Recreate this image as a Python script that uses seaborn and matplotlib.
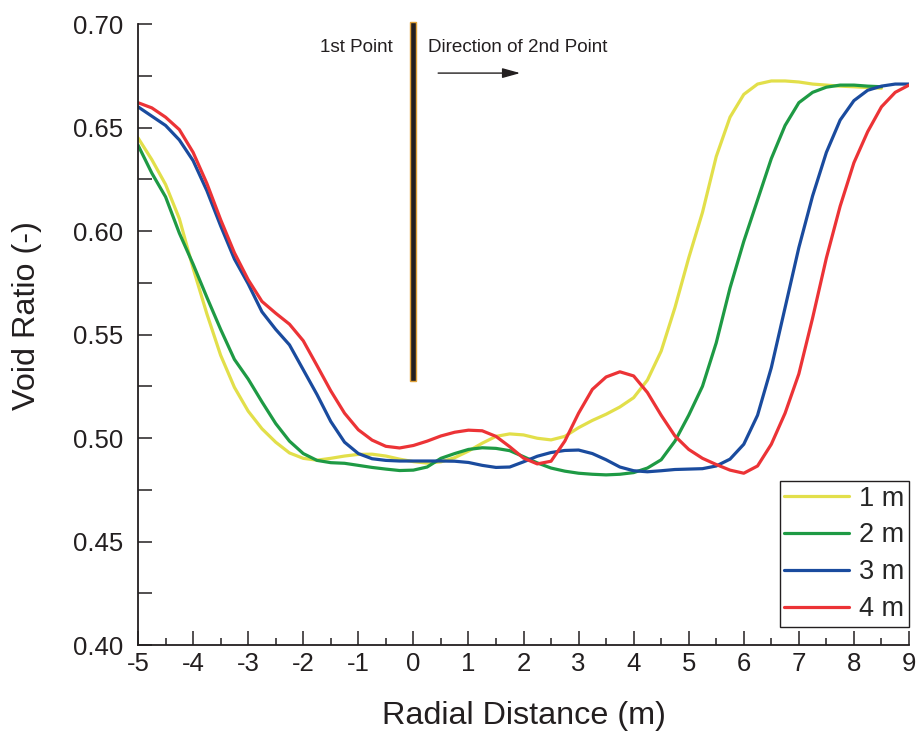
import numpy as np
import pandas as pd
import matplotlib
matplotlib.use("Agg")
import matplotlib.pyplot as plt
from matplotlib.patches import Rectangle
from matplotlib.ticker import MultipleLocator
import seaborn as sns

# Radial positions (m), shared sampling grid
radial = [-5.0, -4.75, -4.5, -4.25, -4.0, -3.75, -3.5, -3.25, -3.0, -2.75,
          -2.5, -2.25, -2.0, -1.75, -1.5, -1.25, -1.0, -0.75, -0.5, -0.25,
          0.0, 0.25, 0.5, 0.75, 1.0, 1.25, 1.5, 1.75, 2.0, 2.25,
          2.5, 2.75, 3.0, 3.25, 3.5, 3.75, 4.0, 4.25, 4.5, 4.75,
          5.0, 5.25, 5.5, 5.75, 6.0, 6.25, 6.5, 6.75, 7.0, 7.25,
          7.5, 7.75, 8.0, 8.25, 8.5, 8.75, 9.0]

# Void ratio profiles at each depth
void_1m = [0.645, 0.6345, 0.6225, 0.606, 0.582, 0.560, 0.540, 0.5245, 0.513, 0.5045,
           0.498, 0.4928, 0.4902, 0.4893, 0.4902, 0.4913, 0.4921, 0.4922, 0.4913, 0.4898,
           0.4886, 0.4879, 0.4885, 0.4905, 0.4937, 0.4975, 0.5008, 0.5020, 0.5015, 0.4999,
           0.4991, 0.5008, 0.5050, 0.5085, 0.5115, 0.5150, 0.5195, 0.528, 0.542, 0.563,
           0.587, 0.609, 0.636, 0.655, 0.666, 0.671, 0.6725, 0.6725, 0.672, 0.671,
           0.6705, 0.670, 0.6697, 0.6693, 0.669]
void_2m = [0.6415, 0.628, 0.6165, 0.599, 0.584, 0.568, 0.5525, 0.538, 0.5285, 0.5175,
           0.507, 0.4985, 0.4925, 0.4892, 0.4881, 0.4878, 0.4868, 0.4858, 0.4850, 0.4843,
           0.4845, 0.4860, 0.4902, 0.4925, 0.4945, 0.4953, 0.4950, 0.4939, 0.4910, 0.4880,
           0.4855, 0.4840, 0.4830, 0.4825, 0.4822, 0.4825, 0.4833, 0.4855, 0.4895, 0.4985,
           0.511, 0.525, 0.546, 0.5725, 0.595, 0.615, 0.635, 0.651, 0.662, 0.667,
           0.6695, 0.6705, 0.6705, 0.670, 0.6697]
void_3m = [0.660, 0.6555, 0.651, 0.644, 0.634, 0.6195, 0.6025, 0.5865, 0.5745, 0.561,
           0.5525, 0.545, 0.533, 0.521, 0.508, 0.498, 0.4925, 0.4900, 0.4892, 0.4889,
           0.4889, 0.4889, 0.4889, 0.4888, 0.4882, 0.4868, 0.4858, 0.4860, 0.4885, 0.4912,
           0.4930, 0.4940, 0.4942, 0.4925, 0.4895, 0.4860, 0.4842, 0.4837, 0.4842, 0.4848,
           0.4850, 0.4852, 0.4865, 0.4898, 0.497, 0.511, 0.534, 0.563, 0.592, 0.617,
           0.638, 0.6536, 0.663, 0.668, 0.670, 0.671, 0.671]
void_4m = [0.662, 0.6595, 0.655, 0.649, 0.638, 0.623, 0.6055, 0.5895, 0.5765, 0.566,
           0.5603, 0.555, 0.547, 0.535, 0.5228, 0.512, 0.504, 0.499, 0.4960, 0.4952,
           0.4964, 0.4985, 0.5010, 0.5028, 0.5038, 0.5035, 0.5008, 0.4958, 0.4903, 0.4875,
           0.4888, 0.4985, 0.512, 0.5235, 0.5295, 0.532, 0.530, 0.522, 0.511, 0.501,
           0.4945, 0.4902, 0.4872, 0.4845, 0.4830, 0.4865, 0.497, 0.512, 0.531, 0.558,
           0.587, 0.612, 0.633, 0.648, 0.660, 0.667, 0.6705]

depth_labels = ["1 m", "2 m", "3 m", "4 m"]
line_colors = ["#E2DF4A", "#1E9A44", "#1A4B9E", "#EC3336"]

x_ticks = [-5, -4, -3, -2, -1, 0, 1, 2, 3, 4, 5, 6, 7, 8, 9]
y_ticks = [0.40, 0.45, 0.50, 0.55, 0.60, 0.65, 0.70]

frames = []
for label, values in zip(depth_labels, [void_1m, void_2m, void_3m, void_4m]):
    frames.append(pd.DataFrame({"Radial Distance (m)": radial[:len(values)],
                                "Void Ratio (-)": values,
                                "Depth": label}))
data = pd.concat(frames, ignore_index=True)

sns.set_theme(style="ticks")
plt.rcParams["font.family"] = ["Liberation Sans", "DejaVu Sans"]

fig = plt.figure(figsize=(9.19, 7.35), dpi=100)
ax = fig.add_axes([0.1502, 0.1224, 0.8389, 0.8449])

sns.lineplot(data=data, x="Radial Distance (m)", y="Void Ratio (-)",
             hue="Depth", hue_order=depth_labels,
             palette=dict(zip(depth_labels, line_colors)),
             sort=False, estimator=None, linewidth=2.3, ax=ax)
for ln in ax.get_lines():
    ln.set_solid_joinstyle("round")
    ln.set_solid_capstyle("round")

ax.set_xlim(-5, 9)
ax.set_ylim(0.40, 0.70)
ax.set_xticks(x_ticks)
ax.set_xticklabels([str(v) for v in x_ticks])
ax.set_yticks(y_ticks)
ax.set_yticklabels([f"{v:.2f}" for v in y_ticks])
ax.xaxis.set_minor_locator(MultipleLocator(0.5))
ax.yaxis.set_minor_locator(MultipleLocator(0.025))

ax.tick_params(axis="both", which="major", direction="in", length=10, width=1.1,
               colors="#231f20", labelsize=18.5)
ax.tick_params(axis="x", which="major", pad=5)
ax.tick_params(axis="y", which="major", pad=10.5)
ax.tick_params(axis="x", which="minor", direction="in", length=5, width=1.1,
               colors="#231f20")
ax.tick_params(axis="y", which="minor", direction="in", length=10, width=1.1,
               colors="#231f20")

sns.despine(ax=ax)
for side in ("left", "bottom"):
    ax.spines[side].set_color("#231f20")
    ax.spines[side].set_linewidth(1.3)

ax.set_xlabel("Radial Distance (m)", fontsize=23.3, color="#231f20", labelpad=18)
ax.set_ylabel("Void Ratio (-)", fontsize=23.3, color="#231f20")
ax.yaxis.set_label_coords(-0.1245, 0.5306)

# Pile marker at the first point
ax.add_patch(Rectangle((-0.055, 0.5275), 0.11, 0.1735, facecolor="#231f20",
                       edgecolor="#E0A23A", linewidth=1.0, zorder=5, clip_on=False))
ax.text(-0.37, 0.6889, "1st Point", ha="right", va="center", fontsize=13.6,
        color="#231f20")
ax.text(0.27, 0.6889, "Direction of 2nd Point", ha="left", va="center",
        fontsize=13.6, color="#231f20")
ax.annotate("", xy=(1.94, 0.6763), xytext=(0.45, 0.6763),
            arrowprops=dict(arrowstyle="-|>,head_length=0.9,head_width=0.25",
                            color="#231f20", lw=1.0, shrinkA=0, shrinkB=0))

leg = ax.legend(loc="lower right", bbox_to_anchor=(1.0, 0.029), borderaxespad=0,
                fontsize=19.5, frameon=True, fancybox=False, framealpha=1,
                edgecolor="#231f20", handlelength=2.4, handletextpad=0.35,
                labelspacing=0.4, borderpad=0.18, title=None)
leg.get_frame().set_linewidth(1.0)
for h in leg.legend_handles:
    h.set_linewidth(2.3)

fig.savefig("out.png", dpi=100)
